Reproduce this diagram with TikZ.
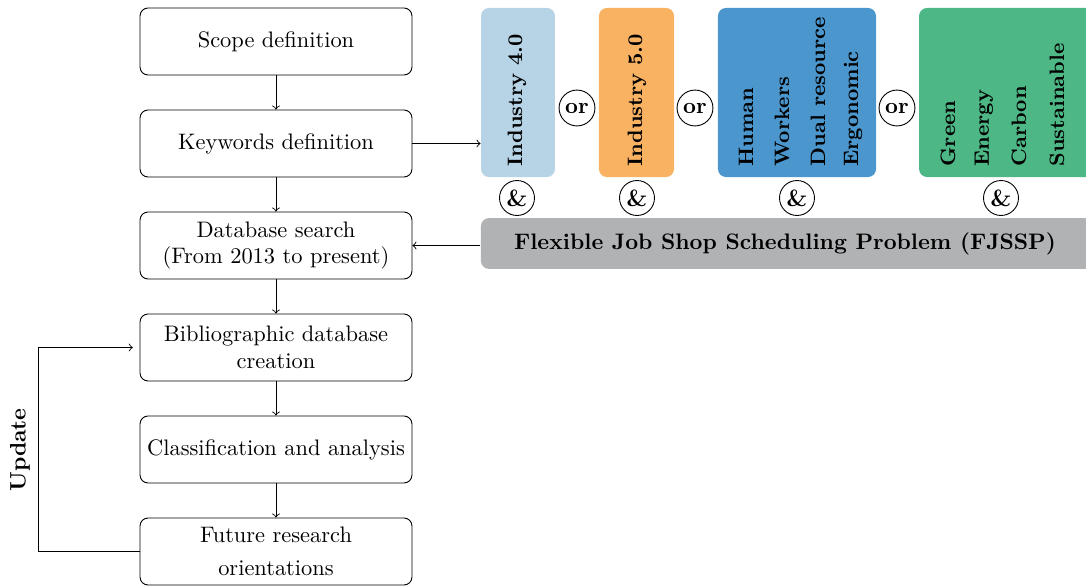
\documentclass[tikz,border=0pt]{standalone}
\usetikzlibrary{calc}
\definecolor{cI}{HTML}{B7D4E7}
\definecolor{cII}{HTML}{F8B262}
\definecolor{cHum}{HTML}{4A96CD}
\definecolor{cGreen}{HTML}{4DB886}
\definecolor{cGray}{HTML}{B1B2B4}
\begin{document}
\begin{tikzpicture}[x=0.446pt,y=-0.446pt,
  flowbox/.style={draw,rounded corners=3.6pt,minimum width=121.3pt,minimum height=29.9pt,align=center,inner sep=2pt},
  colbox/.style={rounded corners=3.6pt,minimum height=75.4pt,inner sep=0pt},
  vlabel/.style={rotate=90,anchor=west,inner sep=0pt,font=\fontsize{9.3}{11}\selectfont\bfseries},
  orc/.style={draw,circle,minimum size=16pt,inner sep=0pt,font=\bfseries},
  andc/.style={draw,circle,minimum size=15.6pt,inner sep=0pt,font=\fontsize{10.5}{12}\selectfont\bfseries},
  arr/.style={->}]
\useasboundingbox (0,0) rectangle (1086,587);
\clip (0,0) rectangle (1086,587);
% left flow
\node[flowbox] (sc) at (276,41.5) {Scope definition};
\node[flowbox] (kw) at (276,143.5) {Keywords definition};
\node[flowbox] (db) at (276,245.5) {Database search\\(From 2013 to present)};
\node[flowbox] (bib) at (276,347.5) {Bibliographic database\\creation};
\node[flowbox] (ca) at (276,449.5) {Classification and analysis};
\node[flowbox] (fr) at (276,551.5) {Future research\\[3pt]orientations};
\draw[arr] (sc) -- (kw);
\draw[arr] (kw) -- (db);
\draw[arr] (db) -- (bib);
\draw[arr] (bib) -- (ca);
\draw[arr] (ca) -- (fr);
\coordinate (lp) at (38,551.5);
\draw[arr,shorten >=3pt] (fr.west) -- (lp) |- (bib.west);
\node[rotate=90,font=\bfseries] (up) at (20,450) {Update};
% keyword boxes
\node[colbox,fill=cI,minimum width=33pt] (i4) at (518,92.5) {};
\node[colbox,fill=cII,minimum width=33.5pt] (i5) at (636.5,92.5) {};
\node[colbox,fill=cHum,minimum width=70.5pt] (hu) at (797,92.5) {};
\node[colbox,fill=cGreen,minimum width=78pt] (gr) at (1006.5,92.5) {};
\node[vlabel] (t1) at (517,167) {Industry 4.0};
\node[vlabel] (t2) at (637,167) {Industry 5.0};
\node[vlabel] (t3) at (746,167) {Human};
\node[vlabel] (t4) at (782,167) {Workers};
\node[vlabel] (t5) at (818,167) {Dual resource};
\node[vlabel] (t6) at (853,167) {Ergonomic};
\node[vlabel] (t7) at (948,167) {Green};
\node[vlabel] (t8) at (984,167) {Energy};
\node[vlabel] (t9) at (1019,167) {Carbon};
\node[vlabel] (t10) at (1057,167) {Sustainable};
\node[orc] (o1) at (577,108) {or};
\node[orc] (o2) at (695,108) {or};
\node[orc] (o3) at (897,108) {or};
\node[andc] (a1) at (517,198) {\&};
\node[andc] (a2) at (637,198) {\&};
\node[andc] (a3) at (797,198) {\&};
\node[andc] (a4) at (1001,198) {\&};
\node[fill=cGray,rounded corners=3.6pt,minimum width=273pt,minimum height=22.7pt,inner sep=0pt] (fj) at (787,243.5) {};
\node[font=\bfseries] (fjt) at (785,243.5) {Flexible Job Shop Scheduling Problem (FJSSP)};
\draw[arr] (kw.east) -- (kw.east -| i4.west);
\draw[arr] (fj.west |- db.east) -- (db.east);
\end{tikzpicture}
\end{document}
